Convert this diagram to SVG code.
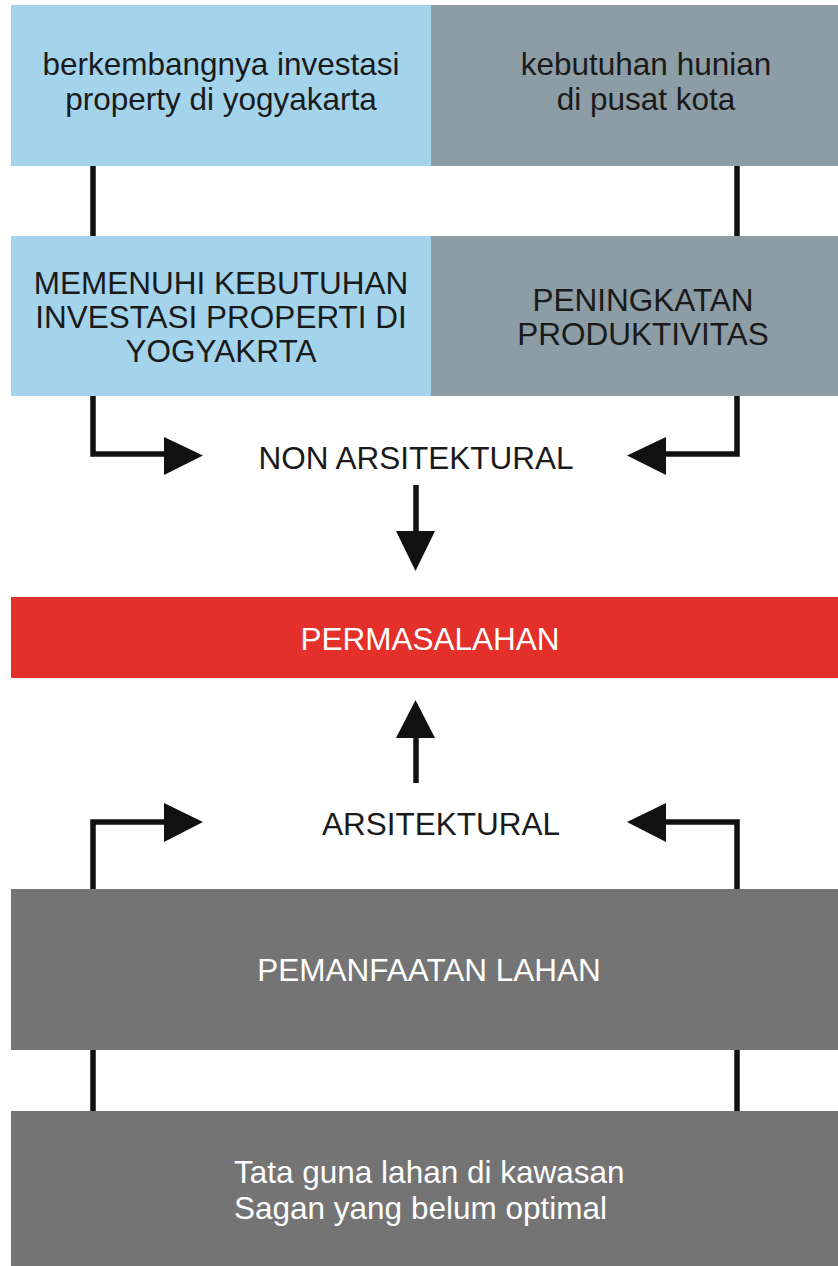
<svg xmlns="http://www.w3.org/2000/svg" width="838" height="1266" viewBox="0 0 838 1266">
<style>
.t{font-family:"Liberation Sans",Arial,sans-serif;font-size:31.5px;text-anchor:middle;fill:#1a1a1a}
.w{fill:#ffffff}
.ln{fill:none;stroke:#111111;stroke-width:5.5}
.ah{fill:#111111}
</style>
<rect width="838" height="1266" fill="#ffffff"/>
<g id="n1">
<rect x="11" y="5" width="420" height="161" fill="#A3D4EC"/>
<text class="t" x="221" y="75">berkembangnya investasi</text>
<text class="t" x="221" y="110">property di yogyakarta</text>
</g>
<g id="n2">
<rect x="431" y="5" width="407" height="161" fill="#8C9DA6"/>
<text class="t" x="646" y="75">kebutuhan hunian</text>
<text class="t" x="646" y="110">di pusat kota</text>
</g>
<g id="n3">
<rect x="11" y="236" width="420" height="160" fill="#A3D4EC"/>
<text class="t" x="221" y="294">MEMENUHI KEBUTUHAN</text>
<text class="t" x="221" y="328">INVESTASI PROPERTI DI</text>
<text class="t" x="221" y="362">YOGYAKRTA</text>
</g>
<g id="n4">
<rect x="431" y="236" width="407" height="160" fill="#8C9DA6"/>
<text class="t" x="643" y="311">PENINGKATAN</text>
<text class="t" x="643" y="345">PRODUKTIVITAS</text>
</g>
<g id="n5">
<text class="t" x="416" y="469">NON ARSITEKTURAL</text>
</g>
<g id="n6">
<rect x="11" y="597" width="827" height="81" fill="#E3302A"/>
<text class="t w" x="430" y="650">PERMASALAHAN</text>
</g>
<g id="n7">
<text class="t" x="441" y="835">ARSITEKTURAL</text>
</g>
<g id="n8">
<rect x="11" y="889" width="827" height="161" fill="#747474"/>
<text class="t w" x="429" y="981">PEMANFAATAN LAHAN</text>
</g>
<g id="n9">
<rect x="11" y="1111" width="827" height="155" fill="#747474"/>
<text class="t w" x="234" y="1183" style="text-anchor:start">Tata guna lahan di kawasan</text>
<text class="t w" x="234" y="1219" style="text-anchor:start">Sagan yang belum optimal</text>
</g>
<g id="connectors">
<line class="ln" x1="93" y1="166" x2="93" y2="236"/>
<line class="ln" x1="737" y1="166" x2="737" y2="236"/>
<polyline class="ln" points="93,396 93,454 166,454"/>
<polygon class="ah" points="164,437 203,455.5 164,475"/>
<polyline class="ln" points="737,396 737,454 664,454"/>
<polygon class="ah" points="666,437 627,455.5 666,475"/>
<line class="ln" x1="416" y1="485" x2="416" y2="533"/>
<polygon class="ah" points="396,531 435,531 415.5,571"/>
<line class="ln" x1="416" y1="783" x2="416" y2="736"/>
<polygon class="ah" points="396,738 435,738 415.5,700"/>
<polyline class="ln" points="93,889 93,822 166,822"/>
<polygon class="ah" points="164,803 203,822 164,842"/>
<polyline class="ln" points="737,889 737,822 664,822"/>
<polygon class="ah" points="666,803 627,822 666,842"/>
<line class="ln" x1="93" y1="1050" x2="93" y2="1111"/>
<line class="ln" x1="737" y1="1050" x2="737" y2="1111"/>
</g>
</svg>
